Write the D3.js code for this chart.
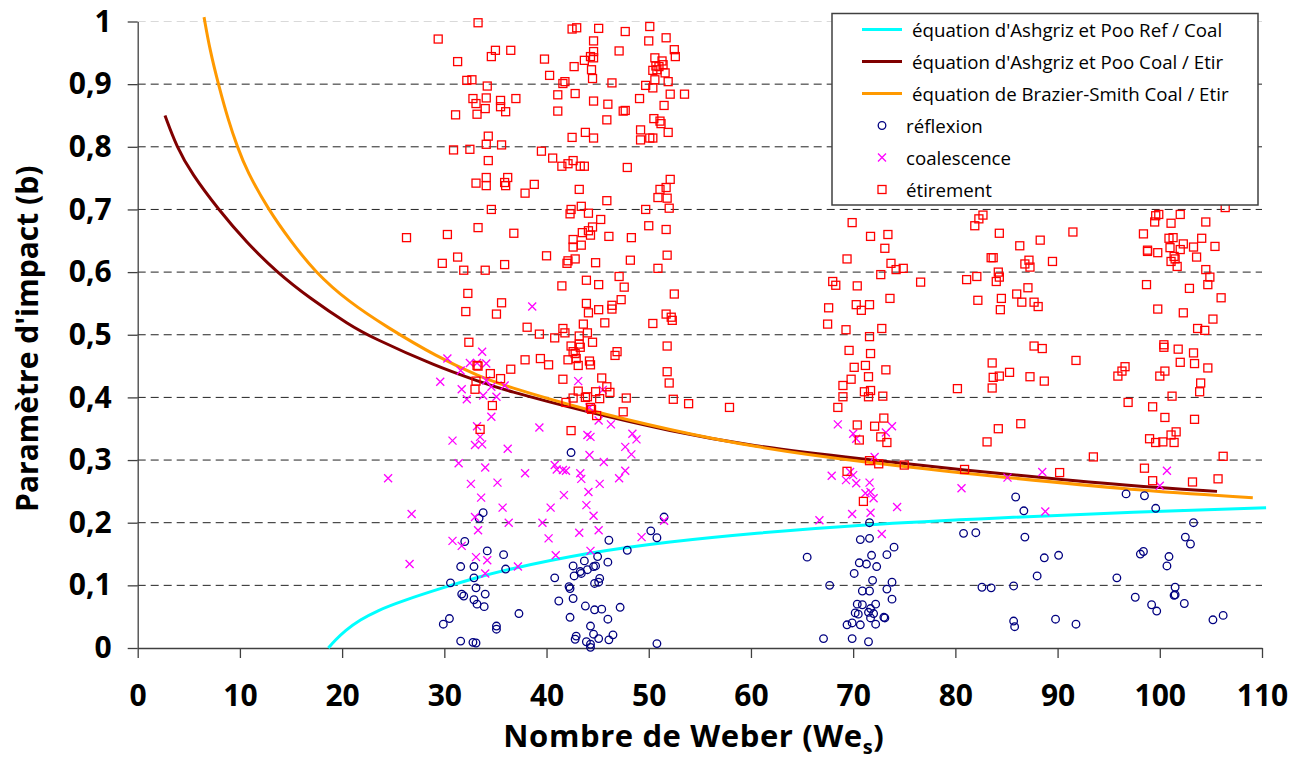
<!DOCTYPE html>
<html>
<head>
<meta charset="utf-8">
<script src="https://cdn.jsdelivr.net/npm/d3@7"></script>
<style>
    body { margin: 0; background: #fff; }
    .axis text { font-family: "Open Sans", sans-serif; font-weight: bold; font-size: 30px; fill: #000; }
    .axis path, .axis line { stroke: #404040; stroke-width: 1.3px; }
</style>
</head>
<body>
<div id="chart"></div>
<script>

// axis ticks
var xTicks = [0, 10, 20, 30, 40, 50, 60, 70, 80, 90, 100, 110];
var yTicks = [0, 0.1, 0.2, 0.3, 0.4, 0.5, 0.6, 0.7, 0.8, 0.9, 1];
var yTickLabels = ["0", "0,1", "0,2", "0,3", "0,4", "0,5", "0,6", "0,7", "0,8", "0,9", "1"];

// equations
var ashgrizRefCoal = [[18.65,0],[19.3,0.012],[20.3,0.028],[21.75,0.045],[23.5,0.06],[25.67,0.074],[30.2,0.098],[33.5,0.114],
    [35.8,0.124],[43.9,0.152],[52.1,0.17],[60.2,0.183],[70.7,0.197],[84.4,0.208],[97.4,0.217],[110.4,0.224]];
var ashgrizCoalEtir = [[2.67,0.85],[3.81,0.8],[5.28,0.757],[7.89,0.7],[10.66,0.647],[13.6,0.6],[16.86,0.558],[20.77,0.515],
    [22.73,0.497],[29.26,0.449],[33.5,0.425],[35.8,0.412],[43.9,0.377],[52.1,0.346],[60.2,0.322],[70,0.303],[84.4,0.278],
    [97.4,0.258],[105.6,0.25]];
var brazierSmith = [[6.49,1.007],[7.07,0.954],[7.89,0.9],[8.87,0.842],[9.75,0.8],[10.66,0.762],[12.78,0.7],[14.9,0.651],
    [17.35,0.6],[20.6,0.553],[24.4,0.512],[29.26,0.465],[33.5,0.433],[35.8,0.419],[43.9,0.38],[52.1,0.348],[60.2,0.321],
    [70.7,0.297],[84.4,0.273],[97.4,0.252],[109.1,0.24]];

// measurements
var reflexion = [[42.4,0.312],[33.8,0.216],[33.4,0.207],[32.0,0.170],[46.1,0.172],[51.5,0.209],[50.2,0.187],[50.8,0.176],
    [47.9,0.156],[34.2,0.155],[35.8,0.149],[31.6,0.130],[32.9,0.130],[36.0,0.126],[32.9,0.112],[30.6,0.104],[33.1,0.096],
    [34.0,0.086],[31.7,0.086],[31.9,0.083],[32.9,0.077],[33.2,0.070],[33.9,0.066],[37.3,0.055],[30.5,0.047],[29.9,0.038],
    [35.1,0.035],[35.1,0.030],[31.6,0.011],[32.8,0.009],[33.1,0.008],[43.7,0.139],[42.6,0.131],[42.7,0.115],[43.4,0.119],
    [43.3,0.122],[44.0,0.125],[44.6,0.130],[45.0,0.146],[44.8,0.131],[46.0,0.137],[40.8,0.112],[42.2,0.098],[42.3,0.095],
    [45.2,0.111],[45.1,0.105],[44.7,0.103],[41.2,0.075],[42.6,0.079],[43.8,0.067],[44.7,0.061],[45.4,0.062],[47.2,0.065],
    [42.3,0.049],[46.0,0.046],[44.3,0.035],[42.9,0.019],[42.8,0.014],[44.6,0.022],[45.1,0.015],[46.5,0.021],[46.1,0.013],
    [43.9,0.010],[44.3,0.006],[44.3,0.001],[50.8,0.007],
    [65.5,0.145],[67.7,0.100],[67.1,0.015],[71.6,0.200],[70.7,0.173],[71.6,0.175],[74.0,0.161],[73.3,0.149],[71.8,0.148],
    [70.6,0.136],[71.3,0.134],[72.3,0.130],[70.1,0.119],[71.9,0.108],[73.8,0.105],[73.3,0.094],[70.9,0.091],[71.6,0.091],
    [73.8,0.078],[70.4,0.070],[70.9,0.069],[72.2,0.070],[71.7,0.063],[70.2,0.056],[70.5,0.054],[71.5,0.057],[72.0,0.055],
    [71.7,0.048],[73.0,0.049],[73.1,0.048],[69.4,0.037],[69.9,0.040],[70.7,0.037],[72.2,0.038],[69.9,0.015],[71.5,0.010],
    [85.9,0.241],[86.7,0.219],[80.8,0.183],[82.0,0.184],[86.8,0.177],[88.7,0.144],[90.1,0.148],[88.0,0.115],[82.6,0.097],
    [83.5,0.096],[85.7,0.099],[85.7,0.043],[85.8,0.034],[89.8,0.046],[91.8,0.038],
    [96.7,0.246],[98.5,0.243],[99.6,0.223],[103.3,0.200],[102.5,0.177],[103.0,0.166],[98.1,0.150],[98.4,0.154],[100.9,0.146],
    [100.7,0.131],[95.8,0.112],[101.5,0.097],[101.5,0.085],[101.4,0.084],[97.6,0.081],[102.4,0.071],[99.2,0.069],[99.7,0.059],
    [105.2,0.045],[106.2,0.052]];

var coalescence = [[24.5,0.271],[26.8,0.214],[26.6,0.134],[38.6,0.545],
    [30.3,0.462],[29.6,0.425],[31.6,0.443],[31.7,0.413],[32.2,0.397],[32.5,0.455],[33.2,0.455],[33.7,0.473],[34.1,0.454],
    [34.1,0.427],[34.6,0.417],[35.1,0.401],[33.8,0.403],[35.9,0.419],[34.6,0.369],[33.2,0.354],[33.5,0.337],[33.0,0.324],
    [33.7,0.325],[30.8,0.331],[31.4,0.295],[34.0,0.288],[36.2,0.318],[39.3,0.352],[32.6,0.262],[35.2,0.264],[37.9,0.279],
    [33.6,0.240],[35.7,0.224],[33.0,0.209],[36.3,0.200],[33.3,0.188],[30.8,0.171],[31.7,0.163],[33.1,0.145],[34.2,0.140],
    [34.0,0.119],[37.2,0.130],[40.4,0.224],[39.6,0.200],[40.2,0.175],[40.9,0.148],[40.8,0.292],[41.0,0.285],[41.6,0.284],
    [41.9,0.283],[41.7,0.244],[43.1,0.426],[44.2,0.384],[44.0,0.340],[44.3,0.337],[45.1,0.363],[46.3,0.357],[45.5,0.412],
    [44.2,0.308],[45.6,0.297],[43.3,0.279],[43.4,0.270],[44.1,0.249],[45.2,0.262],[43.9,0.228],[44.6,0.211],[43.2,0.184],
    [45.1,0.188],[44.3,0.155],[47.7,0.321],[48.3,0.309],[48.4,0.342],[48.8,0.333],[47.7,0.283],[47.1,0.271],[49.3,0.177],
    [51.5,0.203],
    [68.5,0.357],[70.0,0.342],[70.3,0.334],[73.2,0.344],[73.8,0.354],[72.1,0.305],[67.9,0.275],[69.3,0.268],[69.7,0.281],
    [70.0,0.276],[70.3,0.263],[71.6,0.264],[71.2,0.247],[71.7,0.249],[72.0,0.239],[66.7,0.204],[69.9,0.214],[71.7,0.216],
    [74.3,0.225],[72.8,0.182],[80.6,0.255],[85.1,0.272],[88.5,0.281],[88.8,0.218],[100.7,0.283],[100.0,0.259]];

var etirement = [[26.3,0.655],
    [33.3,0.998],[29.4,0.972],[35.0,0.954],[36.5,0.954],[34.6,0.944],[31.3,0.936],[32.2,0.906],[32.7,0.907],[34.2,0.897],
    [32.8,0.877],[34.1,0.878],[35.5,0.874],[37.0,0.877],[33.1,0.869],[35.5,0.864],[34.0,0.861],[36.0,0.856],[31.1,0.851],
    [33.2,0.852],[34.3,0.817],[34.1,0.804],[35.6,0.803],[30.9,0.795],[32.5,0.796],[34.3,0.778],[34.1,0.751],[36.2,0.751],
    [33.1,0.742],[34.1,0.738],[35.9,0.743],[36.0,0.738],[38.8,0.740],[37.9,0.726],[34.6,0.700],[30.3,0.660],[33.3,0.671],
    [36.8,0.662],[29.8,0.614],[31.3,0.624],[31.9,0.603],[34.0,0.603],[35.9,0.612],[32.3,0.566],[35.6,0.551],[32.1,0.537],
    [35.1,0.533],
    [42.5,0.988],[42.95,0.990],[45.1,0.989],[47.7,0.984],[44.6,0.969],[39.8,0.940],[44.6,0.952],[47.1,0.953],[44.3,0.944],
    [44.6,0.942],[43.7,0.938],[42.7,0.928],[44.4,0.923],[40.3,0.914],[44.5,0.909],[41.6,0.901],[41.8,0.904],[46.4,0.902],
    [41.1,0.883],[42.8,0.885],[44.6,0.873],[46.0,0.868],[41.1,0.857],[47.5,0.857],[47.7,0.858],[45.9,0.843],[43.8,0.823],
    [42.5,0.815],[44.6,0.814],[39.5,0.793],[40.6,0.782],[42.6,0.778],[42.1,0.773],[41.5,0.769],[43.3,0.769],[43.7,0.769],
    [47.9,0.767],[43.2,0.732],[45.9,0.714],[42.4,0.700],[43.4,0.705],[42.3,0.693],[44.1,0.694],[45.3,0.684],[44.5,0.672],
    [44.1,0.666],[43.5,0.663],[44.3,0.659],[46.1,0.657],[48.3,0.655],[42.6,0.652],[43.4,0.643],[42.6,0.640],[40.0,0.626],
    [42.8,0.621],[42.1,0.618],[42.0,0.614],[44.8,0.615],[48.2,0.619],[41.5,0.578],[43.9,0.587],[45.1,0.580],[47.1,0.593],
    [47.6,0.576],[47.3,0.556],[43.9,0.550],[46.4,0.547],[46.4,0.541],[44.1,0.535],[45.1,0.540],[45.7,0.519],[43.6,0.517],
    [41.6,0.510],
    [50.1,0.992],[50.0,0.969],[51.7,0.974],[52.5,0.955],[52.6,0.944],[50.6,0.942],[51.3,0.937],[50.7,0.929],[51.0,0.928],
    [51.4,0.931],[50.4,0.922],[50.8,0.923],[51.6,0.918],[50.6,0.907],[51.9,0.904],[49.7,0.898],[50.4,0.894],[52.1,0.884],
    [53.5,0.884],[49.1,0.877],[51.5,0.866],[50.5,0.845],[51.1,0.841],[51.2,0.837],[49.2,0.827],[51.9,0.823],[49.2,0.811],
    [50.1,0.814],[50.4,0.814],[52.1,0.748],[51.7,0.735],[51.1,0.732],[50.9,0.719],[51.8,0.718],[52.0,0.702],[49.7,0.700],
    [50.0,0.674],[51.7,0.668],[51.8,0.627],[50.9,0.606],[52.5,0.565],[51.7,0.533],[52.2,0.528],[52.3,0.523],[50.4,0.518],
    [38.1,0.512],[39.3,0.501],[40.8,0.495],[41.8,0.503],[43.2,0.498],[44.0,0.503],[44.5,0.488],[42.4,0.482],[43.2,0.485],
    [43.3,0.480],[42.6,0.473],[42.8,0.470],[32.4,0.488],[37.9,0.460],[39.4,0.462],[40.2,0.452],[42.1,0.460],[42.9,0.462],
    [43.1,0.451],[44.2,0.458],[44.3,0.452],[36.5,0.445],[33.2,0.451],[33.3,0.450],[34.5,0.438],[35.5,0.430],[33.1,0.426],
    [33.0,0.413],[41.6,0.429],[45.4,0.431],[43.1,0.410],[44.0,0.401],[43.8,0.400],[42.6,0.399],[41.9,0.392],[44.8,0.409],
    [45.2,0.398],[45.9,0.417],[46.2,0.408],[47.8,0.399],[47.5,0.377],[44.3,0.384],[44.4,0.381],[44.9,0.371],[34.7,0.387],
    [33.5,0.349],[42.4,0.347],[46.7,0.467],[46.9,0.473],[51.8,0.482],[51.8,0.441],[52.0,0.423],[52.4,0.397],[53.9,0.390],
    [57.9,0.384],
    [69.9,0.679],[71.7,0.657],[73.4,0.660],[73.1,0.638],[69.4,0.621],[73.7,0.614],[74.2,0.604],[74.9,0.606],[72.7,0.596],
    [76.6,0.584],[68.0,0.585],[68.3,0.579],[70.4,0.578],[67.6,0.543],[70.3,0.548],[70.8,0.539],[71.6,0.548],[73.6,0.558],
    [67.5,0.517],[69.3,0.508],[72.8,0.510],
    [71.6,0.497],[69.6,0.475],[71.7,0.470],[70.1,0.448],[71.2,0.451],[73.2,0.444],[69.8,0.429],[71.5,0.433],[69.0,0.419],
    [71.1,0.409],[71.7,0.411],[69.0,0.401],[71.5,0.401],[72.9,0.402],[68.5,0.384],[73.0,0.367],[70.4,0.356],[72.1,0.354],
    [72.7,0.337],[70.6,0.332],[73.3,0.328],[71.6,0.299],[72.5,0.294],[75.0,0.292],[69.4,0.282],[71.0,0.234],
    [82.7,0.691],[82.3,0.685],[81.9,0.674],[84.3,0.662],[91.5,0.664],[86.3,0.642],[88.3,0.651],[83.5,0.623],[83.7,0.623],
    [87.2,0.619],[86.8,0.613],[87.3,0.608],[89.5,0.617],[84.2,0.600],[84.3,0.592],[84.0,0.585],[81.1,0.588],[82.1,0.593],
    [87.1,0.575],[86.0,0.565],[84.5,0.558],[82.2,0.555],[86.5,0.552],[87.7,0.552],[88.1,0.545],[84.4,0.540],
    [87.7,0.482],[88.5,0.478],[91.8,0.459],[83.6,0.455],[85.3,0.440],[84.3,0.434],[83.7,0.432],[87.3,0.433],[88.7,0.426],
    [80.2,0.414],[83.6,0.415],[84.2,0.350],[86.4,0.358],[83.1,0.329],[93.5,0.305],[80.9,0.285],[90.2,0.280],
    [99.6,0.690],[99.9,0.692],[99.5,0.680],[102.0,0.692],[101.1,0.678],[104.5,0.680],[98.4,0.661],[100.9,0.654],[101.3,0.655],
    [104.1,0.654],[102.3,0.645],[102.0,0.636],[101.0,0.639],[103.3,0.640],[105.4,0.641],[98.8,0.635],[98.8,0.633],[99.8,0.631],
    [101.4,0.625],[101.5,0.621],[101.1,0.617],[103.6,0.624],[101.7,0.609],[104.5,0.604],[104.9,0.592],[98.7,0.580],[104.7,0.580],
    [102.9,0.574],[106.0,0.559],[99.8,0.541],[102.3,0.535],[105.2,0.525],[103.7,0.510],[104.4,0.507],[106.4,0.703],
    [100.4,0.484],[100.4,0.480],[101.8,0.477],[103.3,0.471],[102.0,0.456],[103.4,0.454],[104.7,0.447],[100.5,0.442],[100.0,0.434],
    [96.6,0.449],[96.3,0.442],[95.9,0.434],[104.0,0.423],[103.9,0.409],[101.2,0.402],[96.9,0.392],[99.3,0.385],[100.5,0.368],
    [103.4,0.365],[101.6,0.345],[101.1,0.340],[99.0,0.334],[99.6,0.328],[100.3,0.329],[101.4,0.328],[106.2,0.306],[98.5,0.287],
    [105.7,0.270],[99.3,0.267],[103.2,0.265]];

var lineLabels = ["équation d'Ashgriz et Poo Ref / Coal", "équation d'Ashgriz et Poo Coal / Etir", "équation de Brazier-Smith Coal / Etir"];
var markerLabels = ["réflexion", "coalescence", "étirement"];


ImpactChart = function(_parentElement){
    this.parentElement = _parentElement;
    this.initVis();
}

ImpactChart.prototype.initVis = function(){
    var vis = this;

    vis.margin = { top: 21.5, right: 46, bottom: 112, left: 137.7 };
    vis.width = 1308 - vis.margin.left - vis.margin.right;
    vis.height = 760 - vis.margin.top - vis.margin.bottom;

    vis.root = d3.select("#" + vis.parentElement).append("svg")
        .attr("width", 1308)
        .attr("height", 760);

    vis.svg = vis.root.append("g")
        .attr("transform", "translate(" + vis.margin.left + "," + vis.margin.top + ")");

    vis.x = d3.scaleLinear().domain([0, 110]).range([0, vis.width]);
    vis.y = d3.scaleLinear().domain([0, 1]).range([vis.height, 0]);

    // dashed grid
    vis.svg.selectAll(".grid")
        .data(yTicks.filter(function(d){ return d > 0; }))
        .enter().append("line")
        .attr("class", "grid")
        .attr("x1", 0).attr("x2", vis.width)
        .attr("y1", function(d){ return vis.y(d); })
        .attr("y2", function(d){ return vis.y(d); })
        .attr("stroke", function(d){ return d === 1 ? "#d9d9d9" : "#222"; })
        .attr("stroke-width", 1)
        .attr("stroke-dasharray", "8,5");

    vis.svg.append("g")
        .attr("class", "axis")
        .attr("transform", "translate(0," + vis.height + ")")
        .call(d3.axisBottom(vis.x).tickValues(xTicks).tickSize(10).tickSizeOuter(0).tickPadding(27));

    vis.svg.append("g")
        .attr("class", "axis")
        .call(d3.axisLeft(vis.y).tickValues(yTicks)
            .tickFormat(function(d, i){ return yTickLabels[i]; })
            .tickSize(10).tickSizeOuter(0).tickPadding(16));

    // axis titles
    var xTitle = vis.root.append("text")
        .attr("x", vis.margin.left + vis.width / 2 - 6)
        .attr("y", 746.5)
        .attr("text-anchor", "middle")
        .style("font-family", "'Open Sans', sans-serif")
        .style("font-weight", "bold")
        .style("font-size", "31px")
        .style("letter-spacing", "0.6px");
    xTitle.append("tspan").text("Nombre de Weber (We");
    xTitle.append("tspan").attr("dy", 7).style("font-size", "20px").text("s");
    xTitle.append("tspan").attr("dy", -7).text(")");

    vis.root.append("text")
        .attr("transform", "translate(38," + (vis.margin.top + vis.height / 2 + 4) + ") rotate(-90)")
        .attr("text-anchor", "middle")
        .style("font-family", "'Open Sans', sans-serif")
        .style("font-weight", "bold")
        .style("font-size", "30px")
        .text("Paramètre d'impact (b)");

    vis.updateVis();
}

ImpactChart.prototype.updateVis = function(){
    var vis = this;

    // basis smoothing: points are picture readings, so let the spline even them out
    var line = d3.line()
        .curve(d3.curveBasis)
        .x(function(d){ return vis.x(d[0]); })
        .y(function(d){ return vis.y(d[1]); });

    var curves = [
        { data: ashgrizRefCoal, color: "#00ffff" },
        { data: ashgrizCoalEtir, color: "#800000" },
        { data: brazierSmith, color: "#ff9900" }
    ];

    vis.svg.selectAll(".curve")
        .data(curves)
        .enter().append("path")
        .attr("class", "curve")
        .attr("fill", "none")
        .attr("stroke", function(d){ return d.color; })
        .attr("stroke-width", 3)
        .attr("d", function(d){ return line(d.data); });

    // réflexion
    vis.svg.selectAll(".refl")
        .data(reflexion)
        .enter().append("circle")
        .attr("class", "refl")
        .attr("cx", function(d){ return vis.x(d[0]); })
        .attr("cy", function(d){ return vis.y(d[1]); })
        .attr("r", 3.8)
        .attr("fill", "none")
        .attr("stroke", "#000080")
        .attr("stroke-width", 1.3);

    // coalescence
    vis.svg.selectAll(".coal")
        .data(coalescence)
        .enter().append("path")
        .attr("class", "coal")
        .attr("transform", function(d){ return "translate(" + vis.x(d[0]) + "," + vis.y(d[1]) + ")"; })
        .attr("d", "M-4,-4L4,4M-4,4L4,-4")
        .attr("stroke", "#ff00ff")
        .attr("stroke-width", 1.3);

    // étirement
    vis.svg.selectAll(".etir")
        .data(etirement)
        .enter().append("rect")
        .attr("class", "etir")
        .attr("x", function(d){ return vis.x(d[0]) - 4; })
        .attr("y", function(d){ return vis.y(d[1]) - 4; })
        .attr("width", 8)
        .attr("height", 8)
        .attr("fill", "none")
        .attr("stroke", "#ff0000")
        .attr("stroke-width", 1.3);

    // legend
    var lg = vis.root.append("g").attr("transform", "translate(832,13.5)");
    lg.append("rect")
        .attr("width", 426).attr("height", 191.5)
        .attr("fill", "#fff")
        .attr("stroke", "#404040")
        .attr("stroke-width", 1.5);

    lineLabels.forEach(function(label, i){
        var cy = 16 + i * 32;
        lg.append("line")
            .attr("x1", 30).attr("x2", 70)
            .attr("y1", cy).attr("y2", cy)
            .attr("stroke", curves[i].color)
            .attr("stroke-width", 3);
        lg.append("text")
            .attr("x", 80).attr("y", cy + 7)
            .style("font-family", "'Open Sans', sans-serif")
            .style("font-size", "18.7px")
            .text(label);
    });

    markerLabels.forEach(function(label, i){
        var cy = 112 + i * 32;
        var g = lg.append("g").attr("transform", "translate(50," + cy + ")");
        if (i === 0) {
            g.append("circle").attr("r", 3.8).attr("fill", "none").attr("stroke", "#000080").attr("stroke-width", 1.3);
        } else if (i === 1) {
            g.append("path").attr("d", "M-4,-4L4,4M-4,4L4,-4").attr("stroke", "#ff00ff").attr("stroke-width", 1.3);
        } else {
            g.append("rect").attr("x", -4).attr("y", -4).attr("width", 8).attr("height", 8)
                .attr("fill", "none").attr("stroke", "#ff0000").attr("stroke-width", 1.3);
        }
        lg.append("text")
            .attr("x", 74).attr("y", cy + 7)
            .style("font-family", "'Open Sans', sans-serif")
            .style("font-size", "18.7px")
            .text(label);
    });
}

var chart = new ImpactChart("chart");

</script>
</body>
</html>
